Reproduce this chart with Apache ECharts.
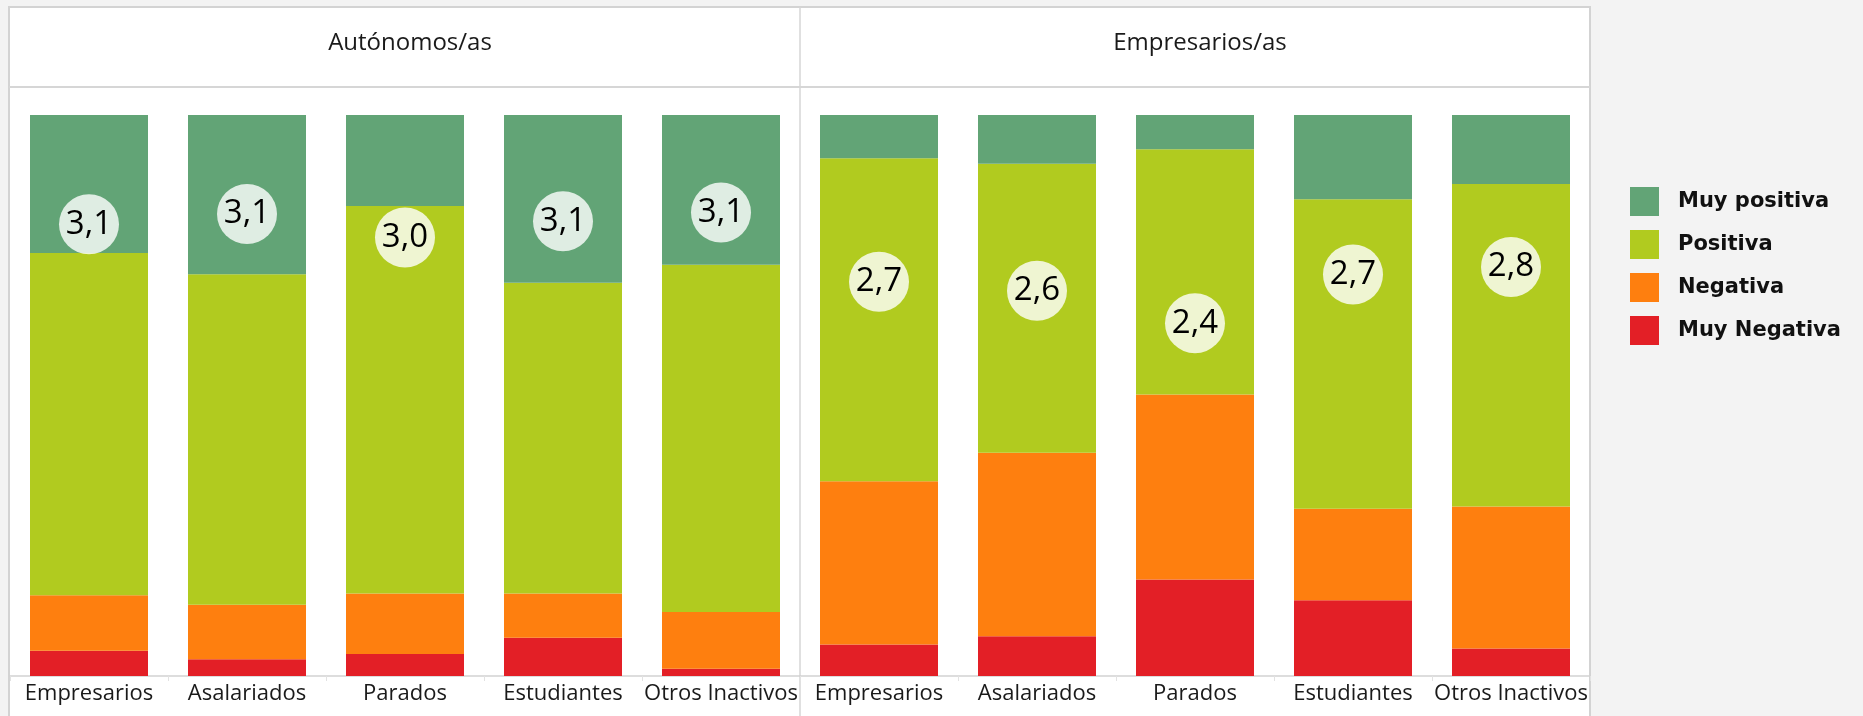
<!DOCTYPE html>
<html>
<head>
<meta charset="utf-8">
<script src="https://cdn.jsdelivr.net/npm/echarts@6/dist/echarts.min.js"></script>
<style>
  html, body { margin: 0; padding: 0; background: #f3f3f3; }
  #chart { width: 1863px; height: 716px; }
</style>
</head>
<body>
<div id="chart"></div>
<script>
// ---- Data ----
const categories = ['Empresarios', 'Asalariados', 'Parados', 'Estudiantes', 'Otros Inactivos'];
const panelTitles = ['Autónomos/as', 'Empresarios/as'];
const seriesNames = ['Muy positiva', 'Positiva', 'Negativa', 'Muy Negativa'];

// Autónomos/as panel (%)
const autMuyPositiva = [24.6, 28.4, 16.2, 29.9, 26.7];
const autPositiva    = [61.0, 58.9, 69.1, 55.4, 61.9];
const autNegativa    = [9.9, 9.7, 10.8, 7.9, 10.1];
const autMuyNegativa = [4.5, 3.0, 3.9, 6.8, 1.3];
const autMedia       = [3.06, 3.13, 2.97, 3.08, 3.14];

// Empresarios/as panel (%)
const empMuyPositiva = [7.7, 8.7, 6.1, 15.0, 12.3];
const empPositiva    = [57.6, 51.5, 43.7, 55.2, 57.5];
const empNegativa    = [29.1, 32.7, 33.0, 16.3, 25.3];
const empMuyNegativa = [5.6, 7.1, 17.2, 13.5, 4.9];
const empMedia       = [2.67, 2.61, 2.39, 2.72, 2.77];

// ---- Styles ----
const colors = {
  'Muy positiva': '#62a476',
  'Positiva': '#b1cb1f',
  'Negativa': '#fe7f0f',
  'Muy Negativa': '#e31f26'
};

const chart = echarts.init(document.getElementById('chart'), null, { renderer: 'canvas' });

function barSeries(name, data, idx, stack) {
  return {
    type: 'bar', name: name, data: data, stack: stack,
    xAxisIndex: idx, yAxisIndex: idx * 2,
    barWidth: 118,
    itemStyle: { color: colors[name] },
    emphasis: { disabled: true }
  };
}
function meanSeries(data, idx) {
  return {
    type: 'scatter',
    xAxisIndex: idx, yAxisIndex: idx * 2 + 1,
    data: data.map((v, i) => [i, v]),
    symbol: 'circle', symbolSize: 60, z: 5,
    itemStyle: { color: 'rgba(255,255,255,0.8)', opacity: 1 },
    label: {
      show: true, position: 'inside',
      formatter: p => p.value[1].toFixed(1).replace('.', ','),
      fontFamily: 'Open Sans', fontSize: 33, color: '#000'
    },
    emphasis: { disabled: true },
    silent: true
  };
}

const xAxisBase = {
  type: 'category', data: categories, boundaryGap: true,
  axisLine: { show: true, lineStyle: { color: '#d2d2d2', width: 1.5 } },
  axisTick: { show: true, length: 5, lineStyle: { color: '#e2e2e2' } },
  axisLabel: { interval: 0, margin: 7, fontFamily: 'Open Sans', fontSize: 22, color: '#1a1a1a' }
};
const yPct = { type: 'value', min: 0, max: 100, show: false };
const yMean = { type: 'value', min: 0, max: 3.8, show: false };

const option = {
  backgroundColor: 'transparent',
  animation: false,
  title: [
    { text: panelTitles[0], left: 405, top: 26, textAlign: 'center',
      textStyle: { fontFamily: 'Open Sans', fontSize: 24, fontWeight: 'normal', color: '#1a1a1a' } },
    { text: panelTitles[1], left: 1195, top: 26, textAlign: 'center',
      textStyle: { fontFamily: 'Open Sans', fontSize: 24, fontWeight: 'normal', color: '#1a1a1a' } }
  ],
  graphic: {
    elements: [
      { type: 'rect', shape: { x: 9, y: 7, width: 1581, height: 720 },
        style: { fill: '#ffffff', stroke: '#d3d3d3', lineWidth: 2 }, silent: true },
      { type: 'line', shape: { x1: 9, y1: 87, x2: 1590, y2: 87 },
        style: { stroke: '#d6d6d6', lineWidth: 2 }, silent: true },
      { type: 'line', shape: { x1: 800, y1: 7, x2: 800, y2: 716 },
        style: { stroke: '#d6d6d6', lineWidth: 1.5 }, silent: true }
    ]
  },
  legend: {
    orient: 'vertical', left: 1625, top: 182,
    data: seriesNames,
    icon: 'rect', itemWidth: 29, itemHeight: 29, itemGap: 14,
    textStyle: { fontFamily: 'DejaVu Sans', fontWeight: 'bold', fontSize: 21, color: '#111', padding: [0, 0, 0, 14] },
    selectedMode: true
  },
  grid: [
    { left: 10, top: 115, width: 790, height: 561 },
    { left: 800, top: 115, width: 790, height: 561 }
  ],
  xAxis: [
    Object.assign({ gridIndex: 0 }, xAxisBase),
    Object.assign({ gridIndex: 1 }, xAxisBase)
  ],
  yAxis: [
    Object.assign({ gridIndex: 0 }, yPct),
    Object.assign({ gridIndex: 0 }, yMean),
    Object.assign({ gridIndex: 1 }, yPct),
    Object.assign({ gridIndex: 1 }, yMean)
  ],
  series: [
    barSeries('Muy Negativa', autMuyNegativa, 0, 'aut'),
    barSeries('Negativa', autNegativa, 0, 'aut'),
    barSeries('Positiva', autPositiva, 0, 'aut'),
    barSeries('Muy positiva', autMuyPositiva, 0, 'aut'),
    barSeries('Muy Negativa', empMuyNegativa, 1, 'emp'),
    barSeries('Negativa', empNegativa, 1, 'emp'),
    barSeries('Positiva', empPositiva, 1, 'emp'),
    barSeries('Muy positiva', empMuyPositiva, 1, 'emp'),
    meanSeries(autMedia, 0),
    meanSeries(empMedia, 1)
  ]
};
chart.setOption(option);
</script>
</body>
</html>
